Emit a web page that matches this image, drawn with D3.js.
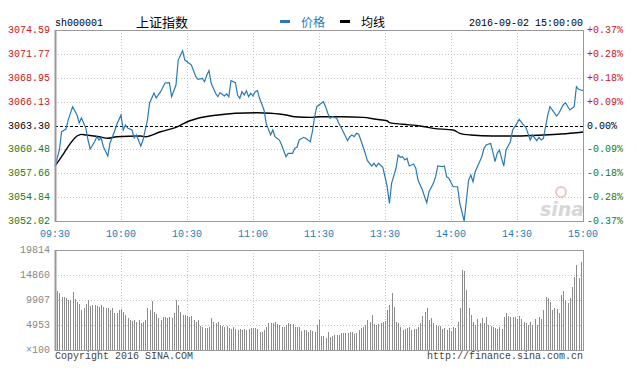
<!DOCTYPE html>
<html>
<head>
<meta charset="utf-8">
<script src="https://cdn.jsdelivr.net/npm/d3@7"></script>
<style>
  body { margin: 0; background: #fff; }
  svg { display: block; }
</style>
</head>
<body>
<svg id="chart"></svg>
<script>
// Chart values (minute index from 09:30, 0..240)
const prevClose = 3063.30;
const priceTop = 3074.59;
const priceBottom = 3052.02;

const priceIdx = [0,2,3,5,6,8,10,11,12,14,15,16,18,19,20,21,22,24,25,27,28,30,31,32,33,35,36,37,39,40,
  42,43,45,46,48,50,52,53,55,56,58,59,61,62,64,65,67,68,69,70,71,73,74,75,77,78,79,80,82,83,
  84,85,86,87,88,89,90,91,92,93,95,96,98,99,100,102,103,105,106,108,109,110,111,113,114,116,117,118,119,120,
  122,123,124,125,126,128,129,130,131,133,134,135,136,137,138,139,141,142,144,145,146,147,149,150,151,152,153,155,156,157,
  158,159,160,161,163,164,165,167,168,169,170,172,173,174,176,177,178,179,181,182,183,184,186,187,188,189,190,191,192,194,
  195,196,198,199,200,201,202,203,204,205,207,208,210,211,213,214,215,216,217,219,220,221,222,223,224,225,226,228,229,231,
  232,234,235,236,237,238,239,240];
const priceVal = [3058.52,3060.41,3062.57,3062.89,3063.95,3065.53,3064.55,3063.60,3064.19,3063.01,3061.59,3060.53,3061.39,3061.98,3061.59,3061.83,3060.80,3059.70,3061.24,3062.57,3063.36,3064.55,3062.77,3063.36,3063.01,3062.77,3061.83,3062.18,3060.88,3061.59,
  3063.95,3065.96,3067.15,3066.55,3067.30,3068.33,3068.36,3066.71,3068.09,3071.04,3072.14,3071.04,3070.65,3070.45,3069.07,3068.76,3068.88,3068.48,3069.27,3069.78,3068.29,3067.11,3066.71,3067.18,3066.79,3067.03,3066.71,3068.60,3068.36,3066.91,
  3066.52,3067.30,3066.91,3067.42,3066.71,3067.11,3066.79,3067.30,3067.42,3066.52,3065.14,3063.56,3062.18,3062.77,3061.98,3061.59,3061.00,3059.62,3060.02,3060.02,3060.61,3060.73,3061.59,3061.91,3061.79,3061.39,3062.57,3064.34,3065.53,3065.73,
  3066.12,3065.53,3064.75,3064.16,3064.34,3064.16,3063.56,3063.09,3062.57,3061.51,3061.98,3062.18,3061.98,3062.38,3062.30,3061.59,3060.02,3059.15,3058.52,3058.84,3058.44,3058.84,3058.37,3057.25,3056.07,3054.11,3056.47,3058.25,3059.82,3059.55,
  3059.62,3059.23,3059.43,3058.52,3058.76,3058.25,3056.86,3055.68,3054.89,3054.18,3055.48,3056.47,3057.25,3058.52,3058.44,3058.52,3057.25,3057.07,3056.07,3056.07,3056.07,3054.11,3052.02,3054.50,3056.86,3057.46,3056.66,3057.85,3058.44,3059.62,
  3060.61,3061.00,3061.20,3060.21,3059.03,3060.02,3060.41,3059.43,3058.52,3060.41,3061.39,3062.77,3063.56,3064.04,3063.36,3063.09,3062.38,3061.59,3062.18,3061.51,3061.91,3061.59,3061.79,3063.16,3064.55,3065.53,3065.14,3064.43,3064.75,3065.73,
  3066.00,3065.14,3065.34,3065.53,3067.89,3067.58,3067.50,3067.42];

const avgIdx = [0,4,7,10,12,14,20,24,28,39,41,48,55,61,65,74,82,92,98,105,109,117,120,130,140,146,151,152,158,166,172,181,184,189,199,210,222,230,237,240];
const avgVal = [3058.52,3060.02,3061.20,3062.06,3062.26,3062.18,3061.98,3061.79,3061.98,3062.06,3061.98,3062.57,3063.09,3063.84,3064.16,3064.55,3064.75,3064.82,3064.75,3064.55,3064.34,3064.27,3064.34,3064.34,3064.27,3064.04,3063.87,3063.64,3063.45,3063.25,3062.97,3062.77,3062.38,3062.18,3062.06,3062.06,3062.18,3062.30,3062.45,3062.54];

// volume per minute, in units of 100 shares
const volume = [10800,11600,11200,10500,10500,10300,10000,9900,11400,10200,9600,9200,8000,8300,9200,10000,8700,9000,8900,8800,
  8600,8900,8600,8400,8300,7900,8300,7400,7400,7900,8200,7600,6900,6300,5900,5800,5900,5600,6000,5400,
  5600,5900,8300,7900,9700,7600,7100,6300,5900,6600,6500,6300,6600,6300,7300,9900,8900,7600,6900,6900,
  6700,6500,6700,5900,5600,5900,4800,4500,4300,4300,4500,6300,5600,5400,5600,5000,4800,4500,4700,4400,
  4200,4500,4100,3900,4100,3900,4200,4000,4200,4400,4300,4300,4100,3600,3600,3900,4500,5300,5400,5400,
  5600,5200,5000,4600,4500,5000,5300,5200,5100,4600,4500,4500,3800,4000,3900,3600,3900,3800,3600,4900,
  5900,2770,2770,2440,3630,2640,2770,2970,2970,2970,3300,3300,3430,3430,3630,3630,3170,3430,3960,4290,
  4490,4950,5940,5610,6930,5150,4950,5150,5420,5610,5810,7930,8920,11360,8590,5610,5280,4490,3960,4100,
  4290,4490,3960,4100,4100,4620,5280,6740,7600,8260,5940,6280,5420,4950,4760,4760,4100,4290,3960,4290,
  3830,4620,4290,5610,8260,15850,15720,11890,8260,6930,5610,4950,6080,5420,6280,5420,6470,4950,4760,4490,
  4290,4100,4490,4100,6470,7270,6740,6470,6600,6600,6080,6740,6080,5610,5420,4950,5610,4950,6080,4950,
  6470,6080,7930,10440,10240,9580,7930,8260,8060,7270,10900,11760,9910,9250,10240,12550,14530,16840,14200,17500,
  16500];

// Tick labels
const timeLabels = ["09:30","10:00","10:30","11:00","11:30","13:30","14:00","14:30","15:00"];
const priceLabels = ["3074.59","3071.77","3068.95","3066.13","3063.30","3060.48","3057.66","3054.84","3052.02"];
const pctLabels = ["+0.37%","+0.28%","+0.18%","+0.09%","0.00%","-0.09%","-0.18%","-0.28%","-0.37%"];
const volLabels = ["19814","14860","9907","4953","\u00d7100"];
const volMax = 19814;

// Dimensions
const width = 637;
const height = 370;
const left = 55, right = 583;
const priceTopY = 30, priceBottomY = 221;
const volTopY = 250, volBottomY = 350;

const mono = "'Liberation Mono', 'DejaVu Sans Mono', monospace";
const red = "#c8161d", green = "#1a7a1a", blue = "#2a7ab6";

const svg = d3.select("#chart")
  .attr("width", width)
  .attr("height", height);

// Scales
const x = d3.scaleLinear().domain([0, 240]).range([left, right]);
const y = d3.scaleLinear().domain([priceBottom, priceTop]).range([priceBottomY, priceTopY]);
const yv = d3.scaleLinear().domain([0, volMax]).range([volBottomY, volTopY]);

const tickIdx = d3.range(0, 241, 30);
const priceTicks = d3.range(priceLabels.length).map(i => priceTop - i * (priceTop - priceBottom) / 8);
const volTicks = d3.range(volLabels.length).map(i => volMax - i * volMax / 4);

// Grid lines, price panel
const grid = svg.append("g")
  .attr("stroke", "#c4c4c4")
  .attr("stroke-dasharray", "1,2")
  .attr("shape-rendering", "crispEdges");

grid.selectAll(".hp")
  .data(priceTicks.filter((d, i) => i > 0 && i < 8 && i !== 4))
  .enter().append("line")
  .attr("x1", left).attr("x2", right)
  .attr("y1", d => Math.round(y(d)) + 0.5)
  .attr("y2", d => Math.round(y(d)) + 0.5);

grid.selectAll(".vp")
  .data(tickIdx.slice(1, -1))
  .enter().append("line")
  .attr("x1", d => Math.round(x(d)) + 0.5)
  .attr("x2", d => Math.round(x(d)) + 0.5)
  .attr("y1", priceTopY).attr("y2", priceBottomY);

// Grid lines, volume panel
grid.selectAll(".hv")
  .data(volTicks.slice(1, -1))
  .enter().append("line")
  .attr("x1", left).attr("x2", right)
  .attr("y1", d => Math.round(yv(d)) + 0.5)
  .attr("y2", d => Math.round(yv(d)) + 0.5);

grid.selectAll(".vv")
  .data(tickIdx.slice(1, -1))
  .enter().append("line")
  .attr("x1", d => Math.round(x(d)) + 0.5)
  .attr("x2", d => Math.round(x(d)) + 0.5)
  .attr("y1", volTopY).attr("y2", volBottomY);

// sina watermark
const wm = svg.append("g").attr("opacity", 0.5);
wm.append("circle")
  .attr("cx", 561).attr("cy", 192).attr("r", 5)
  .attr("fill", "none").attr("stroke", "#e58a8a").attr("stroke-width", 2);
wm.append("text")
  .attr("x", 562).attr("y", 216)
  .attr("text-anchor", "middle")
  .style("font-family", "'DejaVu Sans', sans-serif")
  .style("font-size", "19px")
  .style("font-weight", "bold")
  .style("font-style", "italic")
  .style("fill", "#b0b0b0")
  .text("sina");

// Volume bars
svg.append("g")
  .attr("stroke", "#8c8c8c")
  .attr("shape-rendering", "crispEdges")
  .selectAll("line")
  .data(volume)
  .enter().append("line")
  .attr("x1", (d, i) => Math.round(x(i)) + 0.5)
  .attr("x2", (d, i) => Math.round(x(i)) + 0.5)
  .attr("y1", d => yv(d))
  .attr("y2", volBottomY);

// Previous close dashed line
svg.append("line")
  .attr("x1", left).attr("x2", right)
  .attr("y1", Math.round(y(prevClose)) + 0.5)
  .attr("y2", Math.round(y(prevClose)) + 0.5)
  .attr("stroke", "#000")
  .attr("stroke-dasharray", "3,2")
  .attr("shape-rendering", "crispEdges");

// Average line
const avgLine = d3.line().x(d => x(d[0])).y(d => y(d[1]));
svg.append("path")
  .datum(avgIdx.map((d, i) => [d, avgVal[i]]))
  .attr("d", avgLine.curve(d3.curveMonotoneX))
  .attr("fill", "none")
  .attr("stroke", "#000")
  .attr("stroke-width", 1.4);

// Price line
const priceLine = d3.line().x(d => x(d[0])).y(d => y(d[1]));
svg.append("path")
  .datum(priceIdx.map((d, i) => [d, priceVal[i]]))
  .attr("d", priceLine)
  .attr("fill", "none")
  .attr("stroke", blue)
  .attr("stroke-width", 1.2);

// Panel frames
[[priceTopY, priceBottomY], [volTopY, volBottomY]].forEach(([t, b]) => {
  svg.append("rect")
    .attr("x", left + 0.5).attr("y", t + 0.5)
    .attr("width", right - left).attr("height", b - t)
    .attr("fill", "none")
    .attr("stroke", "#999")
    .attr("stroke-width", 1)
    .attr("shape-rendering", "crispEdges");
  svg.append("line")
    .attr("x1", left + 0.5).attr("x2", left + 0.5)
    .attr("y1", t).attr("y2", b + 1)
    .attr("stroke", "#999").attr("stroke-width", 2);
});

// Left price labels
svg.append("g").selectAll("text")
  .data(priceTicks)
  .enter().append("text")
  .attr("x", 50)
  .attr("y", d => y(d))
  .attr("dy", "0.3em")
  .attr("text-anchor", "end")
  .style("font-family", mono)
  .style("font-size", "10px")
  .style("fill", (d, i) => i < 4 ? red : i === 4 ? "#000" : green)
  .text((d, i) => priceLabels[i]);

// Right percent labels
svg.append("g").selectAll("text")
  .data(priceTicks)
  .enter().append("text")
  .attr("x", 587)
  .attr("y", d => y(d))
  .attr("dy", "0.3em")
  .style("font-family", mono)
  .style("font-size", "10px")
  .style("fill", (d, i) => i < 4 ? red : i === 4 ? "#000" : green)
  .text((d, i) => pctLabels[i]);

// Time labels
svg.append("g").selectAll("text")
  .data(tickIdx)
  .enter().append("text")
  .attr("x", d => x(d))
  .attr("y", 237)
  .attr("text-anchor", "middle")
  .style("font-family", mono)
  .style("font-size", "10px")
  .style("fill", blue)
  .text((d, i) => timeLabels[i]);

// Volume labels
svg.append("g").selectAll("text")
  .data(volTicks)
  .enter().append("text")
  .attr("x", 50)
  .attr("y", d => yv(d))
  .attr("dy", "0.3em")
  .attr("text-anchor", "end")
  .style("font-family", mono)
  .style("font-size", "10px")
  .style("fill", "#888")
  .text((d, i) => volLabels[i]);

// Header
svg.append("text")
  .attr("x", 55).attr("y", 26)
  .style("font-family", mono)
  .style("font-size", "10px")
  .style("fill", "#000")
  .text("sh000001");

svg.append("text")
  .attr("x", 136).attr("y", 27)
  .style("font-family", "'Noto Sans CJK SC', sans-serif")
  .style("font-size", "13px")
  .style("fill", "#000")
  .text("上证指数");

// Legend
svg.append("rect").attr("x", 280).attr("y", 20).attr("width", 10).attr("height", 3).attr("fill", blue);
svg.append("text")
  .attr("x", 301).attr("y", 27)
  .style("font-family", "'Noto Sans CJK SC', sans-serif")
  .style("font-size", "12px")
  .style("fill", blue)
  .text("价格");
svg.append("rect").attr("x", 340).attr("y", 20).attr("width", 10).attr("height", 3).attr("fill", "#000");
svg.append("text")
  .attr("x", 361).attr("y", 27)
  .style("font-family", "'Noto Sans CJK SC', sans-serif")
  .style("font-size", "12px")
  .style("fill", "#000")
  .text("均线");

svg.append("text")
  .attr("x", 583).attr("y", 26)
  .attr("text-anchor", "end")
  .style("font-family", mono)
  .style("font-size", "10px")
  .style("fill", "#000")
  .text("2016-09-02 15:00:00");

// Footer
svg.append("text")
  .attr("x", 55).attr("y", 359)
  .style("font-family", mono)
  .style("font-size", "10px")
  .style("fill", "#444")
  .text("Copyright 2016 SINA.COM");

svg.append("text")
  .attr("x", 583).attr("y", 359)
  .attr("text-anchor", "end")
  .style("font-family", mono)
  .style("font-size", "10px")
  .style("fill", "#444")
  .text("http://finance.sina.com.cn");
</script>
</body>
</html>
